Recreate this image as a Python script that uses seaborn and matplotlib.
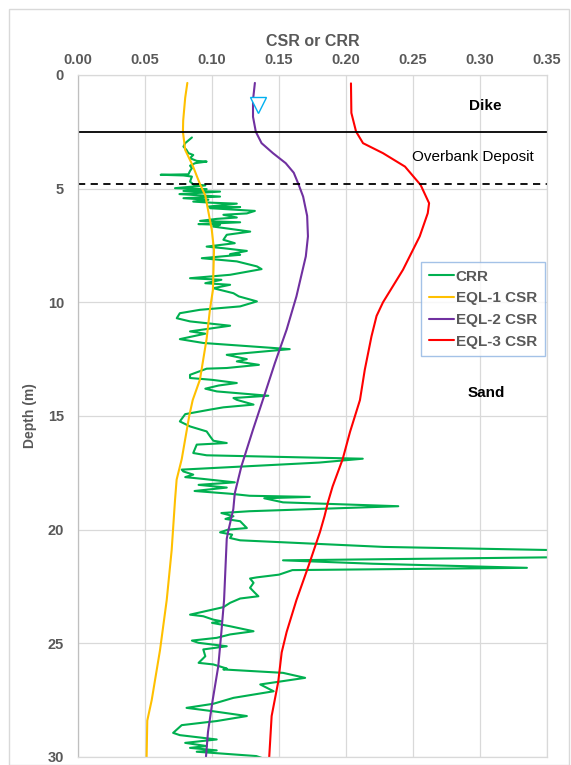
"""CSR / CRR profile with depth for the dike cross-section."""

import matplotlib.pyplot as plt
import seaborn as sns
from matplotlib.patches import Rectangle

# ---- data ------------------------------------------------------------------
crr_depth = [
    2.75, 3.00, 3.15, 3.30, 3.44, 3.52, 3.66, 3.78, 3.81, 3.88, 3.99, 4.10,
    4.22, 4.37, 4.39, 4.42, 4.47, 4.69, 4.81, 4.86, 4.98, 5.02, 5.10, 5.13,
    5.24, 5.35, 5.42, 5.49, 5.57, 5.62, 5.66, 5.79, 5.81, 5.86, 5.98, 6.09,
    6.15, 6.27, 6.33, 6.42, 6.48, 6.56, 6.59, 6.67, 6.89, 7.03, 7.25, 7.40,
    7.55, 7.62, 7.74, 7.88, 7.91, 8.06, 8.20, 8.42, 8.54, 8.79, 8.94, 9.01,
    9.16, 9.23, 9.38, 9.60, 9.74, 9.96, 10.18, 10.33, 10.48, 10.70, 10.84,
    11.03, 11.28, 11.38, 11.62, 11.79, 12.06, 12.31, 12.50, 12.60, 12.75,
    12.89, 12.92, 13.19, 13.33, 13.41, 13.55, 13.66, 13.80, 13.92, 14.11,
    14.21, 14.29, 14.50, 14.62, 14.72, 14.92, 15.24, 15.46, 15.68, 15.90,
    16.09, 16.19, 16.26, 16.63, 16.73, 16.88, 17.05, 17.36, 17.44, 17.58,
    17.69, 17.77, 17.92, 18.03, 18.15, 18.30, 18.42, 18.51, 18.56, 18.62,
    18.80, 18.97, 19.19, 19.27, 19.41, 19.53, 19.63, 19.93, 20.00, 20.12,
    20.22, 20.37, 20.47, 20.76, 20.95, 21.10, 21.20, 21.35, 21.50, 21.68,
    21.78, 21.98, 22.10, 22.15, 22.34, 22.56, 22.78, 22.93, 23.03, 23.22,
    23.41, 23.74, 23.81, 23.96, 24.03, 24.10, 24.25, 24.47, 24.61, 24.76,
    24.88, 24.98, 25.13, 25.27, 25.57, 25.86, 25.93, 26.11, 26.15, 26.30,
    26.52, 26.81, 27.11, 27.40, 27.66, 27.84, 27.99, 28.20, 28.42, 28.60,
    28.94, 29.04, 29.23, 29.38, 29.52, 29.60, 29.71, 29.77, 29.96, 30.10,
]
crr_value = [
    0.085, 0.080, 0.0787, 0.081, 0.0824, 0.086, 0.0836, 0.0886, 0.096, 0.0874,
    0.0836, 0.085, 0.0836, 0.0824, 0.0617, 0.0787, 0.085, 0.0836, 0.086, 0.095,
    0.0724, 0.096, 0.0787, 0.106, 0.0757, 0.106, 0.0787, 0.0973, 0.086, 0.0998,
    0.1185, 0.0973, 0.121, 0.0986, 0.132, 0.126, 0.1085, 0.1185, 0.1036, 0.0911,
    0.121, 0.0899, 0.106, 0.101, 0.1285, 0.111, 0.1085, 0.117, 0.096, 0.1085,
    0.126, 0.1135, 0.121, 0.0924, 0.1185, 0.1335, 0.137, 0.1135, 0.0836, 0.107,
    0.095, 0.1135, 0.101, 0.116, 0.120, 0.1335, 0.121, 0.091, 0.076, 0.0737,
    0.0836, 0.1135, 0.0836, 0.095, 0.076, 0.0936, 0.158, 0.111, 0.126, 0.1185,
    0.135, 0.111, 0.096, 0.0836, 0.0836, 0.100, 0.1185, 0.105, 0.095, 0.1036,
    0.142, 0.116, 0.1185, 0.131, 0.1085, 0.0986, 0.080, 0.076, 0.0836, 0.096,
    0.0986, 0.101, 0.111, 0.0886, 0.086, 0.096, 0.2125, 0.180, 0.0774, 0.0786,
    0.086, 0.080, 0.0935, 0.117, 0.090, 0.111, 0.087, 0.1135, 0.128, 0.173,
    0.139, 0.153, 0.239, 0.128, 0.107, 0.116, 0.110, 0.121, 0.126, 0.112,
    0.106, 0.115, 0.1135, 0.121, 0.228, 0.400, 0.400, 0.380, 0.153, 0.220,
    0.335, 0.160, 0.150, 0.1334, 0.1284, 0.131, 0.1284, 0.132, 0.1346, 0.121,
    0.1135, 0.1085, 0.0836, 0.0935, 0.101, 0.107, 0.100, 0.1135, 0.131, 0.1135,
    0.1035, 0.085, 0.090, 0.111, 0.0935, 0.095, 0.090, 0.101, 0.111, 0.1085,
    0.153, 0.1695, 0.136, 0.146, 0.116, 0.101, 0.081, 0.101, 0.126, 0.1035,
    0.0774, 0.071, 0.076, 0.1035, 0.080, 0.096, 0.0836, 0.1035, 0.0886, 0.133,
    0.140,
]

eql1_depth = [0.35, 1.0, 2.0, 2.5, 3.3, 4.0, 4.8, 5.3, 6.8, 7.7, 9.45, 10.3,
              11.6, 13.4, 14.3, 15.0, 16.9, 17.8, 18.7, 20.9, 23.1, 25.3,
              27.5, 28.4, 30.0]
eql1_csr = [0.0816, 0.080, 0.0785, 0.0783, 0.080, 0.0857, 0.091, 0.095,
            0.0998, 0.1015, 0.1007, 0.0985, 0.096, 0.091, 0.0856, 0.083,
            0.0774, 0.0736, 0.0724, 0.0699, 0.0662, 0.0612, 0.055, 0.0517,
            0.0512]

eql2_depth = [0.35, 1.1, 1.84, 2.5, 3.0, 3.44, 3.88, 4.3, 4.8, 5.35, 6.2,
              7.1, 7.98, 9.74, 11.2, 12.66, 14.14, 15.6, 17.2, 18.4, 19.1,
              20.1, 20.4, 23.1, 24.5, 26.0, 27.5, 28.9, 30.0]
eql2_csr = [0.132, 0.1306, 0.1306, 0.1327, 0.137, 0.1455, 0.155, 0.161,
            0.1645, 0.168, 0.171, 0.1716, 0.170, 0.163, 0.1557, 0.147,
            0.1388, 0.1306, 0.122, 0.117, 0.1159, 0.112, 0.111, 0.109,
            0.107, 0.1047, 0.1005, 0.097, 0.0955]

eql3_depth = [0.37, 1.67, 2.49, 3.0, 3.44, 4.03, 4.84, 5.64, 6.08, 7.1, 8.57,
              10.0, 10.6, 11.5, 12.97, 14.3, 15.7, 16.9, 18.1, 18.8, 19.4,
              20.1, 21.6, 23.1, 24.5, 25.4, 26.7, 28.2, 30.0]
eql3_csr = [0.2037, 0.204, 0.2075, 0.2127, 0.2276, 0.244, 0.2557, 0.262,
            0.261, 0.255, 0.2425, 0.2276, 0.2228, 0.219, 0.214, 0.2104,
            0.203, 0.1975, 0.190, 0.1865, 0.184, 0.1806, 0.172, 0.163,
            0.1557, 0.152, 0.1494, 0.1445, 0.1427]

dike_base = 2.5
overbank_base = 4.8
water_table = (0.1346, 1.3)

layer_labels = ["Dike", "Overbank Deposit", "Sand"]
layer_label_pos = [(0.3037, 1.35), (0.2948, 3.6), (0.305, 14.0)]
layer_label_bold = [True, False, True]

x_ticks = [0.00, 0.05, 0.10, 0.15, 0.20, 0.25, 0.30, 0.35]
y_ticks = [0, 5, 10, 15, 20, 25, 30]

GRAY = "#595959"


def main() -> None:
    sns.set_theme(style="whitegrid")
    plt.rcParams["font.family"] = ["Liberation Sans", "DejaVu Sans"]

    fig = plt.figure(figsize=(5.71, 7.65), dpi=100)
    fig.patches.append(
        Rectangle((0.016, 0.0), 0.98, 0.988, transform=fig.transFigure,
                  fill=False, edgecolor="#d9d9d9", linewidth=1.0)
    )
    ax = fig.add_axes([0.1366, 0.0105, 0.8214, 0.8915])

    series = [
        ("CRR", crr_value, crr_depth, "#00B050"),
        ("EQL-1 CSR", eql1_csr, eql1_depth, "#FFC000"),
        ("EQL-2 CSR", eql2_csr, eql2_depth, "#7030A0"),
        ("EQL-3 CSR", eql3_csr, eql3_depth, "#FF0000"),
    ]
    for label, xs, ys, color in series:
        sns.lineplot(x=xs, y=ys, sort=False, estimator=None, color=color,
                     linewidth=1.5, label=label, ax=ax)

    ax.axhline(dike_base, color="black", linewidth=1.3)
    ax.axhline(overbank_base, color="black", linewidth=1.3, dashes=(4, 3))
    ax.plot([water_table[0]], [water_table[1]], marker="v", markersize=11,
            markerfacecolor="white", markeredgecolor="#00B0F0",
            markeredgewidth=1.0, linestyle="none")

    for text, (x, y), bold in zip(layer_labels, layer_label_pos, layer_label_bold):
        ax.text(x, y, text, ha="center", va="center", fontsize=11,
                fontweight="bold" if bold else "normal", color="black")

    ax.set_xlim(0, 0.35)
    ax.set_ylim(30, 0)
    ax.set_xticks(x_ticks)
    ax.set_yticks(y_ticks)
    ax.set_xticklabels([f"{v:.2f}" for v in x_ticks])
    ax.xaxis.tick_top()
    ax.xaxis.set_label_position("top")
    ax.tick_params(axis="both", length=0, labelsize=10.5, labelcolor=GRAY)
    ax.tick_params(axis="x", pad=6)
    ax.tick_params(axis="y", pad=10)
    for lbl in ax.get_xticklabels() + ax.get_yticklabels():
        lbl.set_fontweight("bold")

    ax.set_xlabel("CSR or CRR", fontsize=11.5, fontweight="bold", color=GRAY,
                  labelpad=5)
    ax.set_ylabel("Depth (m)", fontsize=10, fontweight="bold", color=GRAY,
                  labelpad=8)

    ax.grid(True, color="#d9d9d9", linewidth=0.9)
    for side, spine in ax.spines.items():
        spine.set_color("#d9d9d9")
        spine.set_linewidth(0.9)
    ax.spines["left"].set_color("#bfbfbf")

    legend = ax.legend(loc="upper left", bbox_to_anchor=(0.716, 0.737),
                       frameon=True, fancybox=False, handlelength=1.6,
                       handletextpad=0.15, borderpad=0.5, labelspacing=0.5,
                       fontsize=11)
    legend.get_frame().set_edgecolor("#8db3e2")
    legend.get_frame().set_linewidth(1.0)
    for txt in legend.get_texts():
        txt.set_color(GRAY)
        txt.set_fontweight("bold")

    fig.savefig("out.png", dpi=100)
    plt.close(fig)


if __name__ == "__main__":
    main()
